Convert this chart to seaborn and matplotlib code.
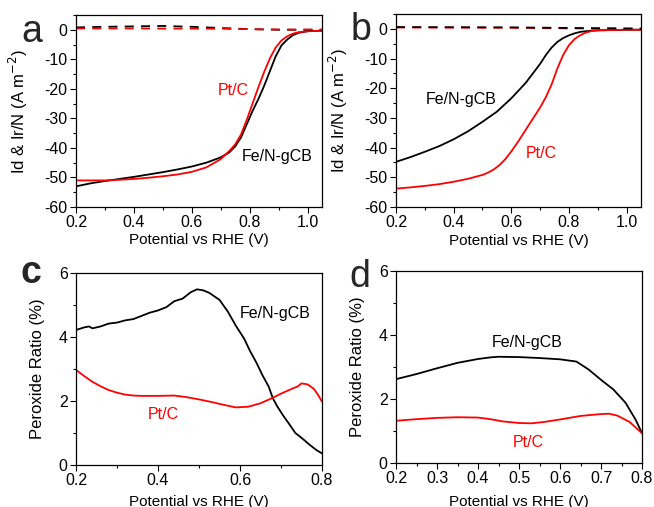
import pandas as pd
import matplotlib.pyplot as plt
from matplotlib.ticker import MultipleLocator
import seaborn as sns

# ---- panel a: LSV curves (Id & Ir/N) ----
a_fe_v = [0.2, 0.25, 0.3, 0.35, 0.4, 0.45, 0.5, 0.55, 0.6, 0.65, 0.7, 0.73, 0.75, 0.77,
          0.79, 0.81, 0.83, 0.85, 0.87, 0.89, 0.91, 0.93, 0.95, 0.97, 1.0, 1.05]
a_fe_i = [-53, -52, -51.2, -50.5, -49.8, -49, -48.2, -47.3, -46.3, -45, -43.2, -41.5, -39.5, -36.5,
          -32, -27.5, -23.5, -19, -14, -9, -5.3, -3.3, -1.8, -1.0, -0.5, -0.3]
a_pt_v = a_fe_v
a_pt_i = [-51, -51, -51, -50.8, -50.5, -50.1, -49.6, -49, -48.1, -46.6, -43.8, -41, -38.8, -35.5,
          -30.5, -25, -19.5, -14.3, -9.7, -6, -3.6, -2.2, -1.3, -0.8, -0.5, -0.3]
a_dash_v = [0.2, 0.3, 0.4, 0.5, 0.6, 0.7, 0.8, 0.9, 1.05]
a_fe_ring = [0.8, 1.0, 1.15, 1.3, 1.0, 0.6, 0.2, 0.0, 0.0]
a_pt_ring = [0.45, 0.45, 0.45, 0.4, 0.4, 0.35, 0.2, 0.1, 0.05]

# ---- panel b ----
b_fe_v = [0.2, 0.25, 0.3, 0.35, 0.4, 0.45, 0.5, 0.55, 0.6, 0.65, 0.7, 0.72, 0.74, 0.76,
          0.78, 0.8, 0.82, 0.84, 0.86, 0.88, 0.9, 0.95, 1.0, 1.05]
b_fe_i = [-44.8, -43.2, -41.4, -39.5, -37.2, -34.5, -31.3, -27.9, -23.4, -18.2, -11.8, -8.8, -6.3, -4.4,
          -3.1, -2.2, -1.5, -1.0, -0.8, -0.6, -0.5, -0.4, -0.3, -0.3]
b_pt_v = [0.2, 0.25, 0.3, 0.35, 0.4, 0.45, 0.5, 0.52, 0.54, 0.56, 0.58, 0.6, 0.625, 0.65, 0.7, 0.72,
          0.74, 0.76, 0.78, 0.8, 0.82, 0.84, 0.86, 0.88, 0.9, 0.95, 1.0, 1.05]
b_pt_i = [-53.8, -53.4, -52.9, -52.3, -51.5, -50.5, -49.2, -48.4, -47.3, -45.8, -43.8, -41.3, -37.8, -34.0,
          -26.5, -23.0, -18.7, -13.3, -8.8, -5.5, -3.4, -2.1, -1.2, -0.7, -0.5, -0.4, -0.3, -0.3]
b_dash_v = [0.2, 0.4, 0.6, 0.8, 1.0, 1.05]
b_fe_ring = [0.6, 0.55, 0.5, 0.3, 0.15, 0.1]
b_pt_ring = [0.45, 0.4, 0.35, 0.15, 0.0, 0.0]

# ---- panel c: peroxide ratio ----
c_fe_v = [0.2, 0.22, 0.232, 0.24, 0.26, 0.28, 0.3, 0.32, 0.34, 0.36, 0.38, 0.4, 0.42, 0.44,
          0.46, 0.48, 0.495, 0.51, 0.525, 0.55, 0.57, 0.59, 0.61, 0.625, 0.64, 0.655, 0.67,
          0.68, 0.69, 0.705, 0.72, 0.735, 0.75, 0.77, 0.785, 0.8]
c_fe_r = [4.22, 4.3, 4.33, 4.27, 4.33, 4.42, 4.45, 4.52, 4.56, 4.66, 4.76, 4.83, 4.93, 5.12,
          5.2, 5.4, 5.49, 5.46, 5.38, 5.16, 4.8, 4.35, 3.95, 3.55, 3.2, 2.8, 2.45,
          2.09, 1.85, 1.55, 1.28, 1.0, 0.85, 0.63, 0.48, 0.36]
c_pt_v = [0.2, 0.22, 0.24, 0.26, 0.28, 0.3, 0.32, 0.34, 0.36, 0.4, 0.44, 0.47, 0.5, 0.53,
          0.56, 0.59, 0.62, 0.65, 0.68, 0.7, 0.73, 0.74, 0.75, 0.765, 0.78, 0.79, 0.8]
c_pt_r = [2.97, 2.78, 2.6, 2.46, 2.34, 2.26, 2.2, 2.17, 2.16, 2.16, 2.17, 2.12, 2.05, 1.97,
          1.88, 1.8, 1.82, 1.93, 2.1, 2.23, 2.4, 2.45, 2.55, 2.52, 2.38, 2.2, 1.98]

# ---- panel d ----
d_fe_v = [0.2, 0.25, 0.3, 0.35, 0.4, 0.43, 0.45, 0.5, 0.55, 0.6, 0.64, 0.67, 0.7, 0.73, 0.76, 0.785, 0.8]
d_fe_r = [2.62, 2.78, 2.96, 3.13, 3.25, 3.3, 3.32, 3.31, 3.28, 3.24, 3.17, 2.92, 2.6, 2.3, 1.88, 1.34, 0.93]
d_pt_v = [0.2, 0.25, 0.3, 0.35, 0.4, 0.43, 0.46, 0.5, 0.53, 0.56, 0.6, 0.65, 0.7, 0.72, 0.74, 0.77, 0.8]
d_pt_r = [1.32, 1.37, 1.41, 1.43, 1.42, 1.37, 1.3, 1.25, 1.24, 1.28, 1.36, 1.47, 1.53, 1.54, 1.48, 1.28, 0.93]

sns.set_theme(style="ticks")
plt.rcParams['font.family'] = ['Liberation Sans', 'DejaVu Sans']
plt.rcParams.update({
    'axes.linewidth': 0.9,
    'axes.edgecolor': 'black',
    'xtick.direction': 'out', 'ytick.direction': 'out',
    'xtick.major.size': 4, 'ytick.major.size': 4,
    'xtick.minor.size': 2, 'ytick.minor.size': 2,
    'xtick.major.width': 0.8, 'ytick.major.width': 0.8,
    'xtick.minor.width': 0.8, 'ytick.minor.width': 0.8,
    'xtick.labelsize': 11.5, 'ytick.labelsize': 11.5,
    'xtick.color': 'black', 'ytick.color': 'black',
    'axes.labelcolor': 'black',
})

W, H = 654, 507
fig = plt.figure(figsize=(W / 100, H / 100), dpi=100)


def make_ax(left, right, top, bottom):
    return fig.add_axes([left / W, 1 - bottom / H, (right - left) / W, (bottom - top) / H])


ax_a = make_ax(76, 322, 15, 207)
ax_b = make_ax(396, 641, 14, 207)
ax_c = make_ax(76, 322, 273, 465)
ax_d = make_ax(396, 642, 271, 463)

RED = '#ff0000'
LW = 1.3
DASH = (0, (5, 4))

# a
sns.lineplot(x=a_fe_v, y=a_fe_i, ax=ax_a, color='black', lw=LW)
sns.lineplot(x=a_pt_v, y=a_pt_i, ax=ax_a, color=RED, lw=LW)
sns.lineplot(x=a_dash_v, y=a_fe_ring, ax=ax_a, color='black', lw=LW, linestyle=DASH)
sns.lineplot(x=a_dash_v, y=a_pt_ring, ax=ax_a, color=RED, lw=LW, linestyle=DASH)
# b
sns.lineplot(x=b_fe_v, y=b_fe_i, ax=ax_b, color='black', lw=LW)
sns.lineplot(x=b_pt_v, y=b_pt_i, ax=ax_b, color=RED, lw=LW)
sns.lineplot(x=b_dash_v, y=b_pt_ring, ax=ax_b, color=RED, lw=LW, linestyle=DASH)
sns.lineplot(x=b_dash_v, y=b_fe_ring, ax=ax_b, color='black', lw=LW, linestyle=DASH)
# c
sns.lineplot(x=c_fe_v, y=c_fe_r, ax=ax_c, color='black', lw=LW)
sns.lineplot(x=c_pt_v, y=c_pt_r, ax=ax_c, color=RED, lw=LW)
# d
sns.lineplot(x=d_fe_v, y=d_fe_r, ax=ax_d, color='black', lw=LW)
sns.lineplot(x=d_pt_v, y=d_pt_r, ax=ax_d, color=RED, lw=LW)

for ax in (ax_a, ax_b):
    ax.set_xlim(0.2, 1.05)
    ax.set_ylim(-60, 5)
    ax.xaxis.set_major_locator(MultipleLocator(0.2))
    ax.xaxis.set_minor_locator(MultipleLocator(0.1))
    ax.yaxis.set_major_locator(MultipleLocator(10))
    ax.yaxis.set_minor_locator(MultipleLocator(5))
    ax.set_ylabel('Id & Ir/N (A m$^{-2}$)', fontsize=12)
    ax.yaxis.set_label_coords(-0.188, 0.5)
    ax.xaxis.set_label_coords(0.5, -0.138)

for ax in (ax_c, ax_d):
    ax.set_xlim(0.2, 0.8)
    ax.set_ylim(0, 6)
    ax.yaxis.set_major_locator(MultipleLocator(2))
    ax.yaxis.set_minor_locator(MultipleLocator(1))
    ax.set_ylabel('Peroxide Ratio (%)', fontsize=12)
    ax.yaxis.set_label_coords(-0.126, 0.5)

ax_c.xaxis.set_label_coords(0.5, -0.156)
ax_d.xaxis.set_label_coords(0.5, -0.167)
ax_c.xaxis.set_major_locator(MultipleLocator(0.2))
ax_c.xaxis.set_minor_locator(MultipleLocator(0.1))
ax_d.xaxis.set_major_locator(MultipleLocator(0.1))
ax_d.xaxis.set_minor_locator(MultipleLocator(0.05))

for ax in (ax_a, ax_b, ax_c, ax_d):
    ax.set_xlabel('Potential vs RHE (V)', fontsize=11)
    ax.tick_params(which='both', top=False, right=False, pad=2)
    for s in ax.spines.values():
        s.set_visible(True)
        s.set_color('black')
    ax.set_xticklabels([f'{t:.1f}' for t in ax.get_xticks()])
    ax.set_yticklabels([f'{t:g}' for t in ax.get_yticks()])

# curve labels
lab = dict(fontsize=11.5, ha='center', va='center_baseline')
ax_a.text(0.743, -20.2, 'Pt/C', color=RED, **lab)
ax_a.text(0.895, -42.5, 'Fe/N-gCB', color='black', **lab)
ax_b.text(0.425, -23.3, 'Fe/N-gCB', color='black', **lab)
ax_b.text(0.705, -41.6, 'Pt/C', color=RED, **lab)
ax_c.text(0.685, 4.78, 'Fe/N-gCB', color='black', **lab)
ax_c.text(0.412, 1.63, 'Pt/C', color=RED, **lab)
ax_d.text(0.52, 3.81, 'Fe/N-gCB', color='black', **lab)
ax_d.text(0.522, 0.69, 'Pt/C', color=RED, **lab)

# panel letters
for ch, x, y in [('a', 32, 42), ('b', 361, 40), ('c', 31, 283), ('d', 360, 287)]:
    fig.text(x / W, 1 - y / H, ch, fontsize=27, ha='center', va='baseline',
             fontweight='bold' if ch == 'c' else 'normal')

fig.savefig('out.png', dpi=100)
